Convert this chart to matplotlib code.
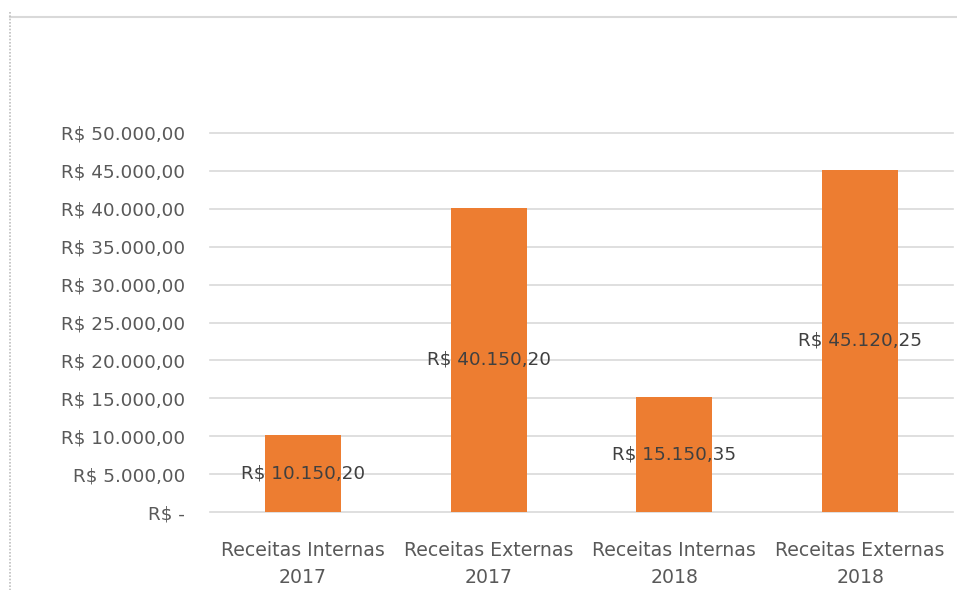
import matplotlib.pyplot as plt
from matplotlib.lines import Line2D

categories = ['Receitas Internas\n2017', 'Receitas Externas\n2017',
              'Receitas Internas\n2018', 'Receitas Externas\n2018']
values = [10150.20, 40150.20, 15150.35, 45120.25]
y_ticks = [0, 5000, 10000, 15000, 20000, 25000, 30000, 35000, 40000, 45000, 50000]


def brl(v):
    # formato brasileiro: 45.120,25
    s = f'{v:,.2f}'
    return 'R$ ' + s.replace(',', 'X').replace('.', ',').replace('X', '.')


plt.rcParams['font.family'] = ['DejaVu Sans']

W, H = 957, 590
fig = plt.figure(figsize=(W / 100, H / 100), dpi=100)
ax = fig.add_axes([210 / W, 1 - 512 / H, 743 / W, 379 / H])

xs = range(len(categories))
ax.bar(xs, values, width=0.41, color='#ED7D31', zorder=2)

for x, v in zip(xs, values):
    ax.text(x, v / 2, brl(v), ha='center', va='center', fontsize=13.2,
            color='#404040', zorder=3)

ax.set_xlim(-0.5, 3.5)
ax.set_ylim(0, 50000)
ax.set_yticks(y_ticks)
ax.set_yticklabels(['R$ -'] + [brl(t) for t in y_ticks[1:]])
ax.set_xticks(list(xs))
ax.set_xticklabels(categories, linespacing=1.55)
ax.tick_params(axis='y', length=0, pad=18, labelsize=13.2, labelcolor='#595959')
ax.tick_params(axis='x', length=0, pad=21, labelsize=13.6, labelcolor='#595959')
ax.grid(axis='y', color='#D9D9D9', linewidth=1.2, zorder=0)
for gl in ax.get_ygridlines():
    gl.set_clip_on(False)
for sp in ax.spines.values():
    sp.set_visible(False)

# moldura do grafico (linha de cima e pontilhado a esquerda)
fig.add_artist(Line2D([10 / W, 1], [1 - 17 / H, 1 - 17 / H], color='#D9D9D9',
                      linewidth=1.5, transform=fig.transFigure))
fig.add_artist(Line2D([10 / W, 10 / W], [1 - 12 / H, 0], color='#BFBFBF',
                      linewidth=1.2, linestyle=(0, (1, 1)), transform=fig.transFigure))

fig.savefig('out.png', dpi=100)
